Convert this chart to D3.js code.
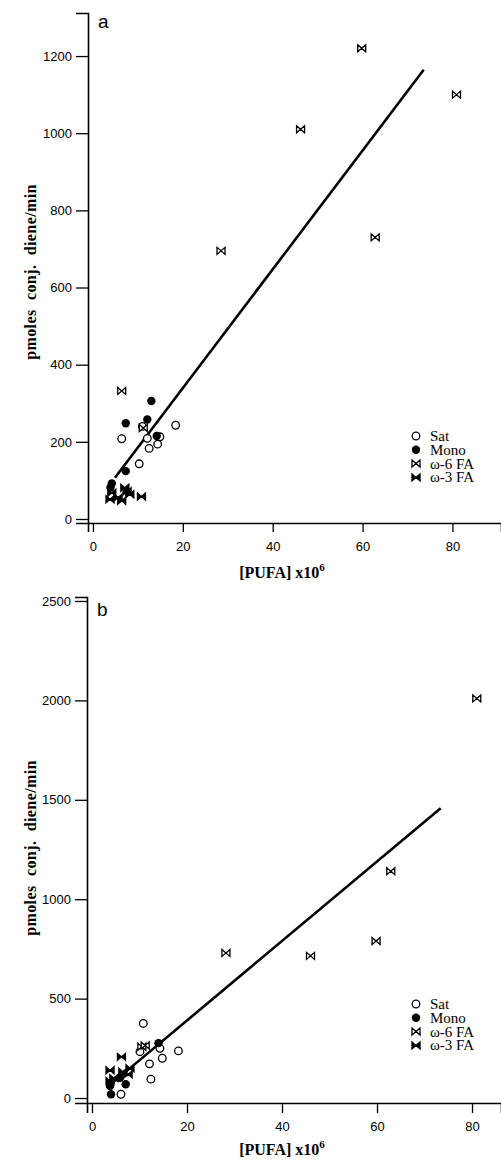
<!DOCTYPE html>
<html>
<head>
<meta charset="utf-8">
<script src="https://cdn.jsdelivr.net/npm/d3@7"></script>
<style>
  body { margin: 0; background: #fff; }
  svg text { fill: #000; }
  .tick text { font-family: "Liberation Sans", Arial, sans-serif; font-size: 13px; }
  .ttl { font-family: "Liberation Serif", "Times New Roman", serif; font-weight: bold; font-size: 16px; }
  .leg { font-family: "Liberation Serif", "Times New Roman", serif; font-size: 15px; }
</style>
</head>
<body>
<div class="chart"></div>
<script>
// Series names
const groups = ['Sat', 'Mono', 'ω-6 FA', 'ω-3 FA'];

// Panel a: [PUFA] x10^6 vs pmoles conj. diene/min
const aSat = [[6.4, 208], [11.0, 240], [12.1, 209], [12.5, 183], [14.4, 194], [14.9, 213], [10.3, 143], [18.4, 243]];
const aMono = [[13.0, 306], [7.3, 248], [12.1, 258], [14.2, 215], [7.3, 124], [4.2, 92], [3.9, 82]];
const aW6 = [[6.4, 332], [11.2, 236], [28.5, 695], [46.2, 1010], [59.8, 1220], [62.8, 730], [80.9, 1100]];
const aW3 = [[3.8, 51], [4.2, 68], [6.4, 47], [7.1, 81], [8.2, 64], [7.6, 72], [10.8, 58], [5.6, 56]];
const aFit = { intercept: 31.6, slope: 15.39, from: 4.9, to: 73.6 };
const aYTicks = [0, 200, 400, 600, 800, 1000, 1200];

// Panel b
const bSat = [[10.8, 375], [18.2, 237], [14.3, 250], [14.8, 200], [12.1, 172], [12.4, 95], [6.1, 19], [10.1, 233]];
const bMono = [[14.0, 276], [4.0, 19], [7.1, 69], [5.9, 102], [3.8, 60]];
const bW6 = [[10.5, 258], [11.2, 264], [28.2, 730], [46.0, 715], [59.8, 790], [62.9, 1141], [81.0, 2010]];
const bW3 = [[3.8, 140], [3.8, 86], [6.2, 207], [7.6, 119], [6.5, 132], [4.6, 100], [8.0, 150]];
const bFit = { intercept: -10, slope: 20.0, from: 4.5, to: 73.4 };
const bYTicks = [0, 500, 1000, 1500, 2000, 2500];

const xTicks = [0, 20, 40, 60, 80];

const width = 501;
const height = 1160;

const svg = d3.select('.chart')
  .append('svg')
  .attr('width', width)
  .attr('height', height);

// marker drawing
const bowtie = 'M-4,-3.5L0,0L-4,3.5ZM4,-3.5L0,0L4,3.5Z';

function drawMarker(g, kind, x, y) {
  if (kind === 0) {
    g.append('circle').attr('cx', x).attr('cy', y).attr('r', 3.8)
      .attr('fill', '#fff').attr('stroke', '#000').attr('stroke-width', 1.3);
  } else if (kind === 1) {
    g.append('circle').attr('cx', x).attr('cy', y).attr('r', 4.2).attr('fill', '#000');
  } else if (kind === 2) {
    g.append('path').attr('d', bowtie).attr('transform', `translate(${x},${y})`)
      .attr('fill', '#fff').attr('stroke', '#000').attr('stroke-width', 1.3);
  } else {
    g.append('path').attr('d', bowtie).attr('transform', `translate(${x},${y})`)
      .attr('fill', '#000').attr('stroke', '#000').attr('stroke-width', 1.3);
  }
}

function renderPanel(p) {
  const g = svg.append('g');
  const x = d3.scaleLinear().domain(p.xDomain).range(p.xRange);
  const y = d3.scaleLinear().domain(p.yDomain).range(p.yRange);

  // x axis
  g.append('g')
    .attr('transform', `translate(0,${p.yRange[0]})`)
    .call(d3.axisBottom(x).tickValues(xTicks).tickFormat(d3.format('d'))
      .tickSizeOuter(0).tickSize(p.xTickLen).tickPadding(p.xPad))
    .call(a => a.select('.domain').attr('stroke-width', 1.6))
    .call(a => a.selectAll('.tick line').attr('stroke-width', 1.3));

  // y axis
  g.append('g')
    .attr('transform', `translate(${p.xRange[0]},0)`)
    .call(d3.axisLeft(y).tickValues(p.yTicks).tickFormat(d3.format('d'))
      .tickSizeOuter(0).tickSize(12).tickPadding(4))
    .call(a => a.select('.domain').attr('stroke-width', 1.6))
    .call(a => a.selectAll('.tick line').attr('stroke-width', 1.3));

  // regression line
  const fitPts = [p.fit.from, p.fit.to].map(v => [v, p.fit.intercept + p.fit.slope * v]);
  g.append('path')
    .attr('d', d3.line().x(d => x(d[0])).y(d => y(d[1]))(fitPts))
    .attr('stroke', '#000').attr('stroke-width', 2.6).attr('fill', 'none');

  // points
  p.series.forEach((s, k) => {
    s.forEach(d => drawMarker(g, k, x(d[0]), y(d[1])));
  });

  // legend
  groups.forEach((name, i) => {
    const ly = p.legY + i * 13.8;
    drawMarker(g, i, 416, ly);
    g.append('text').attr('class', 'leg').attr('x', 430).attr('y', ly + 5).text(name);
  });

  // panel letter
  g.append('text')
    .attr('x', p.xRange[0] + 10).attr('y', p.letterY)
    .attr('font-family', '"Liberation Sans", Arial, sans-serif')
    .attr('font-size', 19)
    .text(p.letter);

  // y title
  g.append('text')
    .attr('class', 'ttl')
    .attr('transform', `translate(36,${p.yTitleY}) rotate(-90)`)
    .attr('text-anchor', 'middle')
    .attr('word-spacing', '5px')
    .attr('letter-spacing', '0.4px')
    .text('pmoles conj. diene/min');

  // x title
  const xt = g.append('text')
    .attr('class', 'ttl')
    .attr('x', 282).attr('y', p.xTitleY)
    .attr('text-anchor', 'middle')
    .attr('font-size', 17);
  xt.append('tspan').text('[PUFA]  x10');
  xt.append('tspan').attr('dy', -7).attr('font-size', 11).text('6');
}

renderPanel({
  letter: 'a', letterY: 28,
  xDomain: [-1.1, 90.8], xRange: [88, 501],
  yDomain: [-10.4, 1311.6], yRange: [523, 13],
  yTicks: aYTicks, xTickLen: 9, xPad: 10,
  series: [aSat, aMono, aW6, aW3], fit: aFit,
  legY: 436, yTitleY: 272, xTitleY: 578
});

renderPanel({
  letter: 'b', letterY: 616,
  xDomain: [-1.05, 86.1], xRange: [87, 501],
  yDomain: [-25, 2520], yRange: [1103, 597],
  yTicks: bYTicks, xTickLen: 10, xPad: 9,
  series: [bSat, bMono, bW6, bW3], fit: bFit,
  legY: 1004, yTitleY: 848, xTitleY: 1155
});
</script>
</body>
</html>
